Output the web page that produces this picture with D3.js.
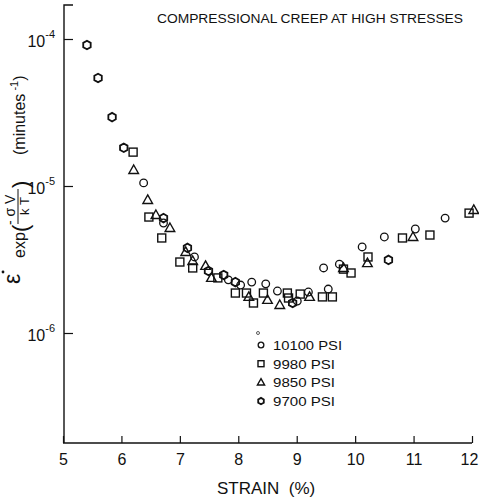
<!doctype html>
<html lang="en">
<head>
<meta charset="utf-8"/>
<title>Compressional creep at high stresses</title>
<script src="https://d3js.org/d3.v7.min.js"></script>
<style>
    body { margin: 0; padding: 0; background: #fff; }
    svg { display: block; font-family: 'Liberation Sans', Arial, sans-serif; }
    .mk { fill: none; stroke: #111; }
</style>
</head>
<body>
<script>
    // strain (%) per series
    const strain10100 = [6.38, 6.72, 7.25, 7.83, 8.04, 8.23, 8.47, 8.67, 9.01, 9.20, 9.54, 9.46, 9.73, 10.12, 10.50, 11.03, 11.54];
    const rate10100 = [1.05e-5, 5.6e-6, 3.29e-6, 2.30e-6, 2.12e-6, 2.22e-6, 2.16e-6, 1.93e-6, 1.65e-6, 1.90e-6, 1.99e-6, 2.77e-6, 2.94e-6, 3.85e-6, 4.50e-6, 5.10e-6, 6.05e-6];

    const strain9980 = [6.20, 6.47, 6.69, 7.00, 7.22, 7.65, 7.95, 8.14, 8.26, 8.43, 8.84, 8.86, 9.06, 9.44, 9.61, 9.80, 9.93, 10.22, 10.81, 11.28, 11.95];
    const rate9980 = [1.70e-5, 6.15e-6, 4.43e-6, 3.04e-6, 2.77e-6, 2.37e-6, 1.87e-6, 1.87e-6, 1.60e-6, 1.87e-6, 1.87e-6, 1.73e-6, 1.84e-6, 1.76e-6, 1.76e-6, 2.72e-6, 2.56e-6, 3.29e-6, 4.43e-6, 4.64e-6, 6.54e-6];

    const strain9850 = [6.21, 6.45, 6.59, 6.83, 7.10, 7.22, 7.44, 7.54, 8.18, 8.50, 8.71, 9.22, 9.80, 10.21, 10.99, 12.03];
    const rate9850 = [1.285e-5, 8.04e-6, 6.35e-6, 5.18e-6, 3.56e-6, 3.09e-6, 2.86e-6, 2.37e-6, 1.76e-6, 1.68e-6, 1.55e-6, 1.76e-6, 2.77e-6, 2.99e-6, 4.50e-6, 6.87e-6];

    const strain9700 = [5.41, 5.60, 5.84, 6.04, 6.72, 7.13, 7.49, 7.75, 7.95, 8.93, 10.57];
    const rate9700 = [9.1e-5, 5.43e-5, 2.94e-5, 1.82e-5, 6.05e-6, 3.79e-6, 2.64e-6, 2.48e-6, 2.22e-6, 1.60e-6, 3.14e-6];

    const xTicks = [5, 6, 7, 8, 9, 10, 11, 12];
    const yTicks = [1e-4, 1e-5, 1e-6];
    const legendLabels = ['10100 PSI', '9980 PSI', '9850 PSI', '9700 PSI'];
    const seriesKeys = ['circle', 'square', 'triangle', 'hexagon'];

    const W = 479, H = 499;
    const svg = d3.select('body').append('svg').attr('width', W).attr('height', H);

    const x = d3.scaleLinear().domain([5, 12]).range([63, 472]);
    const y = d3.scaleLog().domain([1e-6, 1e-4]).range([333, 39]);

    // simbolos: dibujo de cada marcador centrado en 0,0
    function marker(g, kind, s) {
        if (kind === 'circle') {
            g.append('circle').attr('class', 'mk').attr('r', 3.8 * s).attr('stroke-width', 1.3);
        } else if (kind === 'square') {
            g.append('rect').attr('class', 'mk').attr('x', -4 * s).attr('y', -4 * s)
                .attr('width', 8 * s).attr('height', 8 * s).attr('stroke-width', 1.4);
        } else if (kind === 'triangle') {
            g.append('path').attr('class', 'mk').attr('stroke-width', 1.4)
                .attr('d', `M0,${-5 * s}L${4.8 * s},${3.5 * s}L${-4.8 * s},${3.5 * s}Z`);
        } else {
            const pts = d3.range(6).map(i => {
                const a = Math.PI / 6 + i * Math.PI / 3;
                return [4.3 * s * Math.cos(a), 4.3 * s * Math.sin(a)];
            });
            g.append('path').attr('class', 'mk').attr('stroke-width', 1.8)
                .attr('d', 'M' + pts.join('L') + 'Z');
        }
    }

    // ejes
    const xAxis = svg.append('g')
        .attr('transform', 'translate(0,443)')
        .call(d3.axisBottom(x).tickValues(xTicks).tickSize(-7).tickPadding(14).tickFormat(d3.format('d')));
    xAxis.select('.domain').attr('d', 'M63,0H472').attr('stroke', '#111').attr('stroke-width', 1.4);
    xAxis.selectAll('.tick line').attr('stroke', '#111').attr('stroke-width', 1.2);
    xAxis.selectAll('.tick text').attr('font-size', 16).attr('fill', '#111').attr('dy', '0.5em')
        .attr('dx', d => d === 12 ? -3 : 0);

    const yAxis = svg.append('g')
        .attr('transform', 'translate(64,0)')
        .call(d3.axisLeft(y).tickValues(yTicks).tickSize(-9).tickFormat(''));
    yAxis.select('.domain').attr('d', 'M9,5H0V443').attr('stroke', '#111').attr('stroke-width', 1.4);
    yAxis.selectAll('.tick line').attr('stroke', '#111').attr('stroke-width', 1.2);
    yAxis.selectAll('.tick').each(function (d) {
        const t = d3.select(this).append('text')
            .attr('x', -9).attr('y', 7).attr('text-anchor', 'end').attr('fill', '#111');
        t.append('tspan').attr('font-size', 16).text('10');
        t.append('tspan').attr('font-size', 11).attr('dy', -9).text('-' + Math.round(-Math.log10(d)));
    });

    // datos
    const series = [
        {key: 'circle', xs: strain10100, ys: rate10100},
        {key: 'square', xs: strain9980, ys: rate9980},
        {key: 'triangle', xs: strain9850, ys: rate9850},
        {key: 'hexagon', xs: strain9700, ys: rate9700}
    ];
    series.forEach(function (s) {
        svg.append('g').selectAll('g')
            .data(s.xs.map((v, i) => [v, s.ys[i]]))
            .join('g')
            .attr('transform', d => `translate(${x(d[0])},${y(d[1])})`)
            .each(function () { marker(d3.select(this), s.key, 1); });
    });

    // titulo
    svg.append('text').attr('x', 157).attr('y', 23).attr('font-size', 12)
        .attr('textLength', 306).attr('lengthAdjust', 'spacingAndGlyphs').attr('fill', '#111')
        .text('COMPRESSIONAL CREEP AT HIGH STRESSES');

    // etiqueta eje x
    svg.append('text').attr('x', 217).attr('y', 494).attr('font-size', 17).attr('fill', '#111')
        .attr('xml:space', 'preserve').text('STRAIN  (%)');

    // etiqueta eje y (rotada)
    const yl = svg.append('g').attr('transform', 'translate(26,285) rotate(-90)').attr('fill', '#111');
    yl.append('text').attr('x', 1).attr('y', -6).attr('font-size', 23).text('ε');
    yl.append('circle').attr('cx', 13).attr('cy', -23).attr('r', 1.4);
    yl.append('text').attr('x', 27).attr('y', -1).attr('font-size', 16).text('exp');
    yl.append('text').attr('x', 53).attr('y', 2).attr('font-size', 22).text('(');
    yl.append('text').attr('x', 60).attr('y', -11).attr('font-size', 14).attr('xml:space', 'preserve').text('- σ V');
    yl.append('line').attr('x1', 61).attr('x2', 96).attr('y1', -8).attr('y2', -8).attr('stroke', '#111').attr('stroke-width', 1);
    yl.append('text').attr('x', 70).attr('y', 3).attr('font-size', 13).attr('xml:space', 'preserve').text('k T');
    yl.append('text').attr('x', 97).attr('y', 2).attr('font-size', 22).text(')');
    const ym = yl.append('text').attr('x', 130).attr('y', -1).attr('font-size', 16);
    ym.append('tspan').text('(minutes');
    ym.append('tspan').attr('font-size', 11).attr('dy', -7).text(' -1');
    ym.append('tspan').attr('dy', 7).text(')');

    // leyenda
    const lg = svg.append('g');
    lg.append('circle').attr('cx', 258).attr('cy', 333).attr('r', 1.5).attr('fill', 'none').attr('stroke', '#333').attr('stroke-width', 0.8);
    legendLabels.forEach(function (lab, i) {
        const row = lg.append('g').attr('transform', `translate(261,${345 + i * 18.7})`);
        marker(row.append('g'), seriesKeys[i], 0.75);
        row.append('text').attr('x', 12).attr('y', 5).attr('font-size', 13).attr('fill', '#111')
            .attr('textLength', lab.length === 9 ? 69 : 62).attr('lengthAdjust', 'spacingAndGlyphs').text(lab);
    });
</script>
</body>
</html>
